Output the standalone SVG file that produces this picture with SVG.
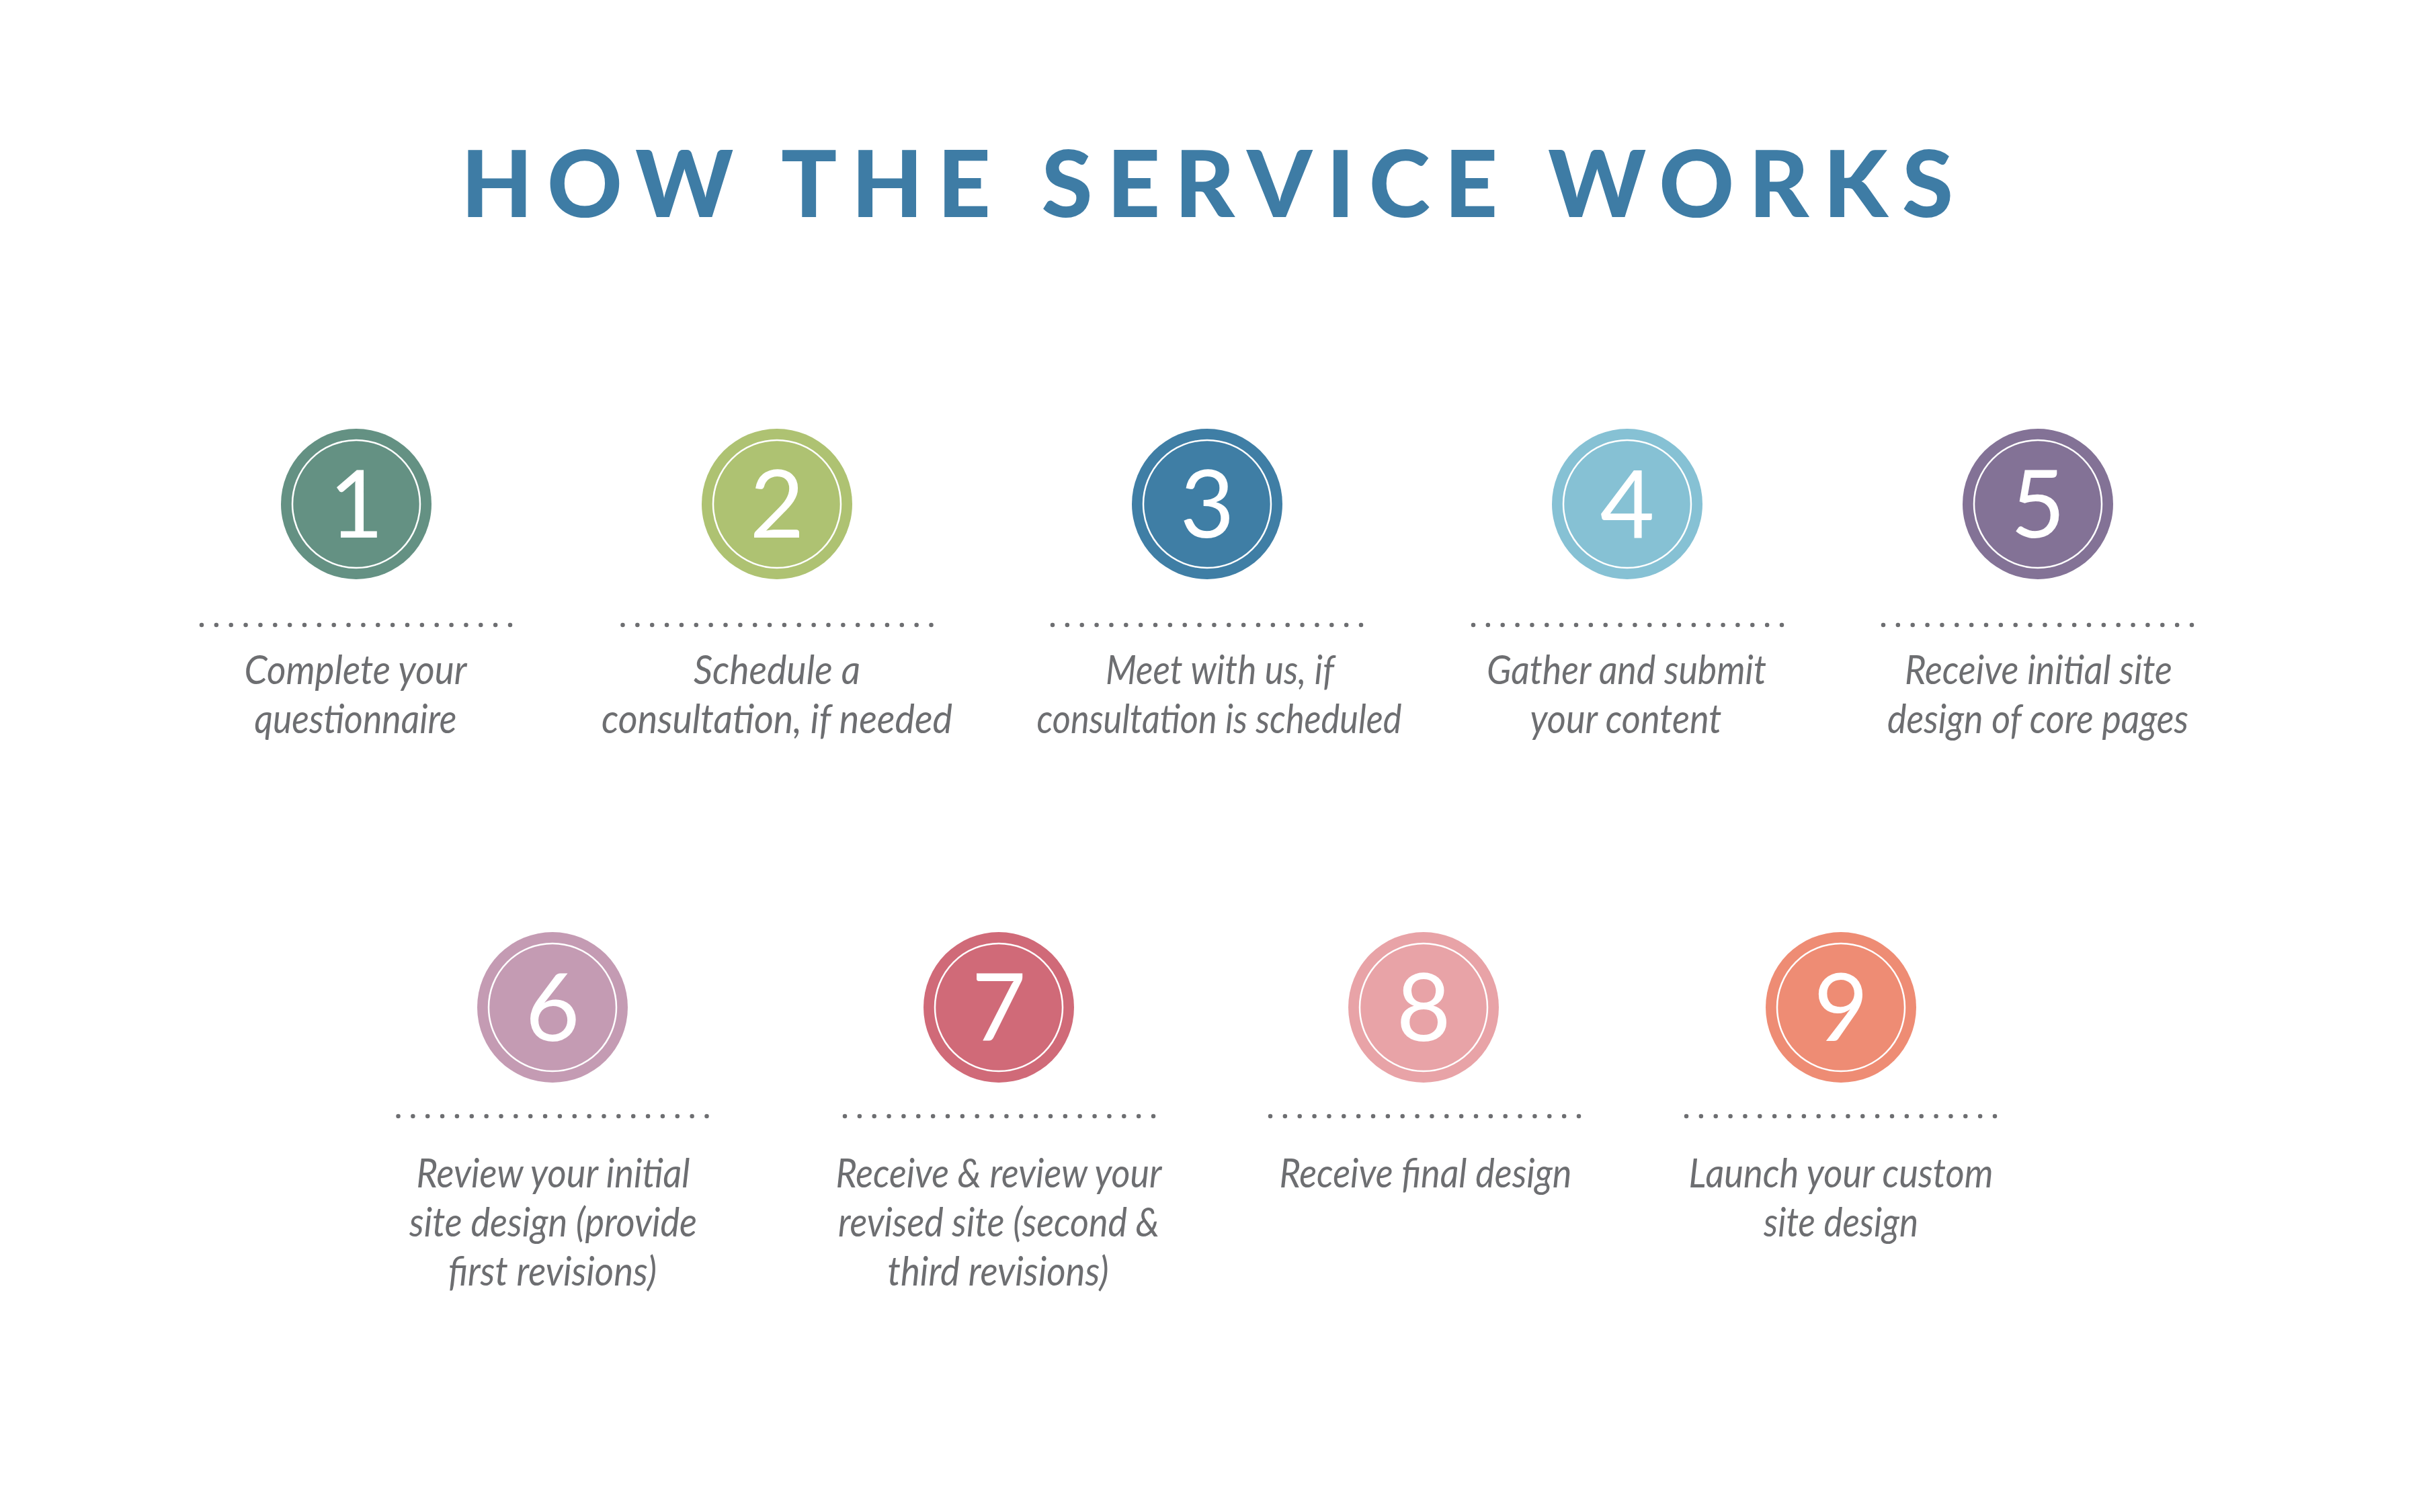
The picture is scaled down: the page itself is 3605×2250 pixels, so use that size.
<svg xmlns="http://www.w3.org/2000/svg" width="3605" height="2250" viewBox="0 0 3605 2250">
<style>
.bg{fill:#ffffff}
.title{font-family:Lato,"Liberation Sans",sans-serif;font-weight:900;font-size:138px;fill:#3e7ca5}
.ring{fill:none;stroke:#ffffff;stroke-width:2.5}
.num{font-family:Lato,"Liberation Sans",sans-serif;font-weight:400;font-size:140px;fill:#ffffff;text-anchor:middle}
.dots{stroke:#6d6e71;stroke-width:6.5;stroke-linecap:round;stroke-dasharray:0 21.857;fill:none}
.lbl{font-family:Lato,"Liberation Sans",sans-serif;font-style:italic;font-weight:400;font-size:60px;fill:#6d6e71;text-anchor:middle}
</style>
<rect class="bg" x="0" y="0" width="3605" height="2250"/>
<text id="title" class="title" x="686" y="323" textLength="2220" lengthAdjust="spacing">HOW THE SERVICE WORKS</text>

<g id="step1">
<circle cx="530" cy="750" r="112" fill="#649183"/>
<circle class="ring" cx="530" cy="750" r="95"/>
<text class="num" x="530" y="800">1</text>
<line class="dots" x1="300" y1="930" x2="759.6" y2="930"/>
<text class="lbl" x="529" y="1018" textLength="331" lengthAdjust="spacingAndGlyphs">Complete your</text>
<text class="lbl" x="529" y="1091" textLength="301" lengthAdjust="spacingAndGlyphs">questionnaire</text>
</g>

<g id="step2">
<circle cx="1156" cy="750" r="112" fill="#aec272"/>
<circle class="ring" cx="1156" cy="750" r="95"/>
<text class="num" x="1156" y="800">2</text>
<line class="dots" x1="926.5" y1="930" x2="1386.1" y2="930"/>
<text class="lbl" x="1156" y="1018" textLength="248" lengthAdjust="spacingAndGlyphs">Schedule a</text>
<text class="lbl" x="1156" y="1091" textLength="522" lengthAdjust="spacingAndGlyphs">consultation, if needed</text>
</g>

<g id="step3">
<circle cx="1796" cy="750" r="112" fill="#3f7ea5"/>
<circle class="ring" cx="1796" cy="750" r="95"/>
<text class="num" x="1796" y="800">3</text>
<line class="dots" x1="1566" y1="930" x2="2025.6" y2="930"/>
<text class="lbl" x="1815" y="1018" textLength="340" lengthAdjust="spacingAndGlyphs">Meet with us, if</text>
<text class="lbl" x="1814" y="1091" textLength="543" lengthAdjust="spacingAndGlyphs">consultation is scheduled</text>
</g>

<g id="step4">
<circle cx="2421" cy="750" r="112" fill="#86c1d4"/>
<circle class="ring" cx="2421" cy="750" r="95"/>
<text class="num" x="2421" y="800">4</text>
<line class="dots" x1="2192" y1="930" x2="2651.6" y2="930"/>
<text class="lbl" x="2420" y="1018" textLength="416" lengthAdjust="spacingAndGlyphs">Gather and submit</text>
<text class="lbl" x="2419" y="1091" textLength="285" lengthAdjust="spacingAndGlyphs">your content</text>
</g>

<g id="step5">
<circle cx="3032" cy="750" r="112" fill="#837296"/>
<circle class="ring" cx="3032" cy="750" r="95"/>
<text class="num" x="3032" y="800">5</text>
<line class="dots" x1="2802" y1="930" x2="3261.6" y2="930"/>
<text class="lbl" x="3033" y="1018" textLength="398" lengthAdjust="spacingAndGlyphs">Receive initial site</text>
<text class="lbl" x="3032" y="1091" textLength="448" lengthAdjust="spacingAndGlyphs">design of core pages</text>
</g>

<g id="step6">
<circle cx="822" cy="1499" r="112" fill="#c49bb3"/>
<circle class="ring" cx="822" cy="1499" r="95"/>
<text class="num" x="822" y="1549">6</text>
<line class="dots" x1="592.5" y1="1661" x2="1052.1" y2="1661"/>
<text class="lbl" x="823" y="1767" textLength="407" lengthAdjust="spacingAndGlyphs">Review your initial</text>
<text class="lbl" x="823" y="1840" textLength="428" lengthAdjust="spacingAndGlyphs">site design (provide</text>
<text class="lbl" x="822" y="1913" textLength="310" lengthAdjust="spacingAndGlyphs">first revisions)</text>
</g>

<g id="step7">
<circle cx="1486" cy="1499" r="112" fill="#d06a78"/>
<circle class="ring" cx="1486" cy="1499" r="95"/>
<text class="num" x="1486" y="1549">7</text>
<line class="dots" x1="1257" y1="1661" x2="1716.6" y2="1661"/>
<text class="lbl" x="1486" y="1767" textLength="485" lengthAdjust="spacingAndGlyphs">Receive &amp; review your</text>
<text class="lbl" x="1486" y="1840" textLength="478" lengthAdjust="spacingAndGlyphs">revised site (second &amp;</text>
<text class="lbl" x="1485" y="1913" textLength="329" lengthAdjust="spacingAndGlyphs">third revisions)</text>
</g>

<g id="step8">
<circle cx="2118" cy="1499" r="112" fill="#e8a3a7"/>
<circle class="ring" cx="2118" cy="1499" r="95"/>
<text class="num" x="2118" y="1549">8</text>
<line class="dots" x1="1890" y1="1661" x2="2349.6" y2="1661"/>
<text class="lbl" x="2121" y="1767" textLength="435" lengthAdjust="spacingAndGlyphs">Receive final design</text>
</g>

<g id="step9">
<circle cx="2739" cy="1499" r="112" fill="#ee8c74"/>
<circle class="ring" cx="2739" cy="1499" r="95"/>
<text class="num" x="2739" y="1549">9</text>
<line class="dots" x1="2509" y1="1661" x2="2968.6" y2="1661"/>
<text class="lbl" x="2739" y="1767" textLength="453" lengthAdjust="spacingAndGlyphs">Launch your custom</text>
<text class="lbl" x="2739" y="1840" textLength="230" lengthAdjust="spacingAndGlyphs">site design</text>
</g>
</svg>
